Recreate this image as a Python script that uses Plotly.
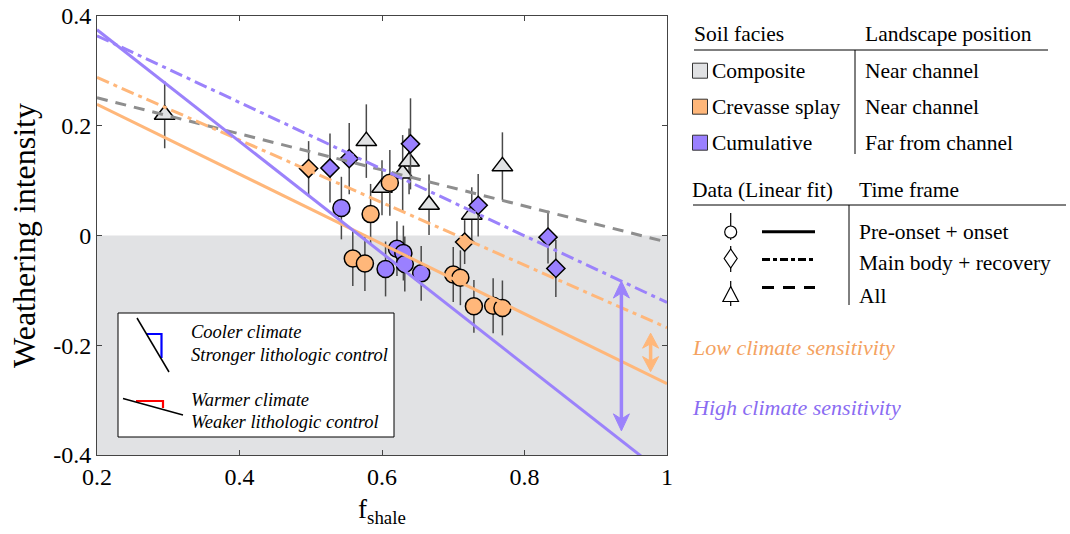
import plotly.graph_objects as go

# ---------------- data ----------------
comp_x = [0.295, 0.578, 0.600, 0.629, 0.638, 0.666, 0.726, 0.769]
comp_y = [0.220, 0.172, 0.087, 0.113, 0.135, 0.056, 0.038, 0.126]
comp_err = [0.061, 0.067, 0.050, 0.070, 0.060, 0.055, 0.050, 0.062]

cs_d_x = [0.497, 0.716]
cs_d_y = [0.122, -0.012]
cs_d_err = [0.050, 0.040]

cu_d_x = [0.527, 0.554, 0.640, 0.735, 0.833, 0.844]
cu_d_y = [0.123, 0.140, 0.167, 0.055, -0.003, -0.060]
cu_d_err = [0.063, 0.065, 0.083, 0.057, 0.048, 0.052]

cs_c_x = [0.559, 0.576, 0.584, 0.611, 0.700, 0.710, 0.729, 0.756, 0.769]
cs_c_y = [-0.042, -0.051, 0.039, 0.096, -0.071, -0.077, -0.129, -0.128, -0.132]
cs_c_err = [0.050, 0.050, 0.055, 0.060, 0.050, 0.050, 0.048, 0.050, 0.050]

cu_c_x = [0.543, 0.605, 0.621, 0.630, 0.632, 0.655]
cu_c_y = [0.050, -0.061, -0.024, -0.032, -0.052, -0.069]
cu_c_err = [0.057, 0.050, 0.050, 0.050, 0.050, 0.050]

fit_x = [0.2, 1.0]
fit_comp_all = [0.251, -0.012]
fit_cs_pre = [0.239, -0.270]
fit_cs_main = [0.288, -0.168]
fit_cu_pre = [0.375, -0.439]
fit_cu_main = [0.364, -0.122]

arrow_cu_x = 0.936
arrow_cu_y = [-0.083, -0.356]
arrow_cs_x = 0.977
arrow_cs_y = [-0.178, -0.248]

x_ticks = [0.2, 0.4, 0.6, 0.8, 1.0]
x_tick_labels = ["0.2", "0.4", "0.6", "0.8", "1"]
y_ticks = [0.4, 0.2, 0.0, -0.2, -0.4]
y_tick_labels = ["0.4", "0.2", "0", "-0.2", "-0.4"]

facies = ["Composite", "Crevasse splay", "Cumulative"]
positions = ["Near channel", "Near channel", "Far from channel"]
timeframes = ["Pre-onset + onset", "Main body + recovery", "All"]

# ---------------- styles ----------------
GRAY_FILL = "#e1e2e4"
ORANGE = "#ffb77a"
PURPLE = "#9b82fb"
PURPLE_FILL = "#9a80ff"
GRAYLINE = "#8e8e8e"
FONT = "Liberation Serif, Times New Roman, DejaVu Serif, serif"
DASHDOT = "13px,5px,4px,5px"
DASH = "11px,8px"

L, R, T, B = 97, 667, 16, 455
W, H = 1070, 534
DXPX = (1.0 - 0.2) / (R - L)
DYPX = (0.4 - -0.4) / (B - T)


def px(x):
    return (x - L) / (R - L)


def py(y):
    return (B - y) / (B - T)


fig = go.Figure()


def pts(x, y, err, symbol, fill, size):
    fig.add_trace(go.Scatter(
        x=x, y=y, mode="markers",
        marker=dict(symbol=symbol, size=size, color=fill,
                    line=dict(color="black", width=1.5)),
        error_y=dict(type="data", array=err, visible=True,
                     color="#4a4a4a", thickness=1.5, width=0),
        showlegend=False, cliponaxis=False))


pts(comp_x, comp_y, comp_err, "triangle-up", GRAY_FILL, 18)
pts(cs_c_x, cs_c_y, cs_c_err, "circle", ORANGE, 17)
pts(cu_c_x, cu_c_y, cu_c_err, "circle", PURPLE_FILL, 17)
pts(cs_d_x, cs_d_y, cs_d_err, "diamond", ORANGE, 14)
pts(cu_d_x, cu_d_y, cu_d_err, "diamond", PURPLE_FILL, 14)


def fit(y, color, dash):
    fig.add_trace(go.Scatter(x=fit_x, y=y, mode="lines",
                             line=dict(color=color, width=3, dash=dash),
                             showlegend=False))


fit(fit_comp_all, GRAYLINE, DASH)
fit(fit_cs_pre, ORANGE, "solid")
fit(fit_cs_main, ORANGE, DASHDOT)
fit(fit_cu_pre, PURPLE, "solid")
fit(fit_cu_main, PURPLE, DASHDOT)

shapes = []
# negative-region shading
shapes.append(dict(type="rect", xref="x", yref="y", x0=0.2, x1=1.0, y0=-0.4, y1=0,
                   fillcolor=GRAY_FILL, line=dict(width=0), layer="below"))

# double arrows (line + two notched heads), in data coordinates
for xa, ys, col, hw, hl in [(arrow_cu_x, arrow_cu_y, PURPLE, 8, 17),
                            (arrow_cs_x, arrow_cs_y, ORANGE, 8, 15)]:
    top, bot = ys
    shapes.append(dict(type="line", xref="x", yref="y", x0=xa, x1=xa,
                       y0=top - 0.6 * hl * DYPX, y1=bot + 0.6 * hl * DYPX,
                       line=dict(color=col, width=3.5)))
    for tip, sgn in [(top, -1), (bot, 1)]:
        p = (f"M{xa},{tip} L{xa + hw * DXPX},{tip + sgn * hl * DYPX} "
             f"L{xa},{tip + sgn * 0.7 * hl * DYPX} L{xa - hw * DXPX},{tip + sgn * hl * DYPX} Z")
        shapes.append(dict(type="path", xref="x", yref="y", path=p,
                           fillcolor=col, line=dict(color=col, width=1)))

# inset box
shapes.append(dict(type="rect", xref="paper", yref="paper",
                   x0=px(118), x1=px(394), y0=py(437), y1=py(313),
                   fillcolor="white", line=dict(color="black", width=1), layer="above"))


def seg(x0, y0, x1, y1, color="black", width=1.5, dash="solid"):
    shapes.append(dict(type="line", xref="paper", yref="paper",
                       x0=px(x0), y0=py(y0), x1=px(x1), y1=py(y1),
                       line=dict(color=color, width=width, dash=dash)))


def path(points, color, width=2, fill=None, closed=False):
    p = "M" + " L".join(f"{px(a):.5f},{py(b):.5f}" for a, b in points)
    if closed:
        p += " Z"
    shapes.append(dict(type="path", xref="paper", yref="paper", path=p,
                       line=dict(color=color, width=width),
                       fillcolor=fill if fill else "rgba(0,0,0,0)"))


path([(147, 334), (161.5, 334), (161.5, 358)], "blue", 2.2)
seg(137, 318, 169, 372, "black", 1.5)
path([(136, 401), (163, 401), (163, 408)], "red", 2.2)
seg(123, 398.5, 183, 415, "black", 1.5)

# legend table 1
seg(694, 50, 1048, 50, "black", 1)
seg(855, 50, 855, 154, "black", 1)
for i, c in enumerate([GRAY_FILL, ORANGE, PURPLE_FILL]):
    cy = [70.7, 106.7, 142.7][i]
    shapes.append(dict(type="rect", xref="paper", yref="paper",
                       x0=px(692.5), x1=px(707.5), y0=py(cy + 7.5), y1=py(cy - 7.5),
                       fillcolor=c, line=dict(color="#333", width=1)))

# legend table 2
seg(693, 205, 1066, 205, "black", 1)
seg(849, 205, 849, 305, "black", 1)
seg(730.7, 213, 730.7, 240, "black", 1.2)
shapes.append(dict(type="circle", xref="paper", yref="paper",
                   x0=px(724.7), x1=px(736.7), y0=py(238), y1=py(226),
                   fillcolor="white", line=dict(color="black", width=1.2)))
seg(730.7, 246, 730.7, 272, "black", 1.2)
path([(730.7, 249), (737.2, 258.5), (730.7, 268), (724.2, 258.5)], "black", 1.2,
     fill="white", closed=True)
seg(730.7, 281, 730.7, 306, "black", 1.2)
path([(730.7, 286.5), (738.5, 301.5), (722.9, 301.5)], "black", 1.2,
     fill="white", closed=True)
seg(762, 231.7, 815, 231.7, "black", 3)
seg(762, 259.5, 815, 259.5, "black", 3, "8px,3px,4px,3px")
seg(762, 287.5, 815, 287.5, "black", 3, "12px,9px")

annotations = []


def text(x, y, s, size=21.5, color="black", italic=False, anchor="left"):
    if italic:
        s = f"<i>{s}</i>"
    annotations.append(dict(xref="paper", yref="paper", x=px(x), y=py(y), text=s,
                            showarrow=False, xanchor=anchor, yanchor="middle",
                            xshift=-2,
                            font=dict(family=FONT, size=size, color=color)))


text(694, 34, "Soil facies")
text(865, 34, "Landscape position")
for i in range(3):
    cy = [70.7, 106.7, 142.7][i]
    text(712, cy, facies[i])
    text(865, cy, positions[i])
text(692, 190, "Data (Linear fit)")
text(859, 190, "Time frame")
for i, cy in enumerate([231.7, 262.5, 296]):
    text(859, cy, timeframes[i])

text(191, 332, "Cooler climate", 18.5, italic=True)
text(191, 355, "Stronger lithologic control", 18.5, italic=True)
text(191, 400, "Warmer climate", 18.5, italic=True)
text(191, 422, "Weaker lithologic control", 18.5, italic=True)

text(692, 347, "Low climate sensitivity", 22, "#f4a25f", italic=True)
text(692, 407, "High climate sensitivity", 22, "#8a6cf2", italic=True)

fig.update_layout(
    width=W, height=H,
    margin=dict(l=L, r=W - R, t=T, b=H - B, autoexpand=False),
    plot_bgcolor="white", paper_bgcolor="white",
    font=dict(family=FONT, size=21, color="black"),
    shapes=shapes, annotations=annotations,
    xaxis=dict(range=[0.2, 1.0], tickvals=x_ticks, ticktext=x_tick_labels,
               automargin=False,
               ticks="inside", ticklen=5, tickcolor="#444", showline=True,
               linecolor="#444", linewidth=1, mirror="ticks", showgrid=False,
               zeroline=False, tickfont=dict(family=FONT, size=24),
               title=dict(text="f<sub>shale</sub>", font=dict(family=FONT, size=27), standoff=10)),
    yaxis=dict(range=[-0.4, 0.4], tickvals=y_ticks, ticktext=y_tick_labels,
               automargin=False,
               ticks="inside", ticklen=5, tickcolor="#444", showline=True,
               linecolor="#444", linewidth=1, mirror="ticks", showgrid=False,
               zeroline=False, tickfont=dict(family=FONT, size=24),
               title=dict(text="Weathering intensity", font=dict(family=FONT, size=32), standoff=8)),
)

fig.write_html("out.html")
